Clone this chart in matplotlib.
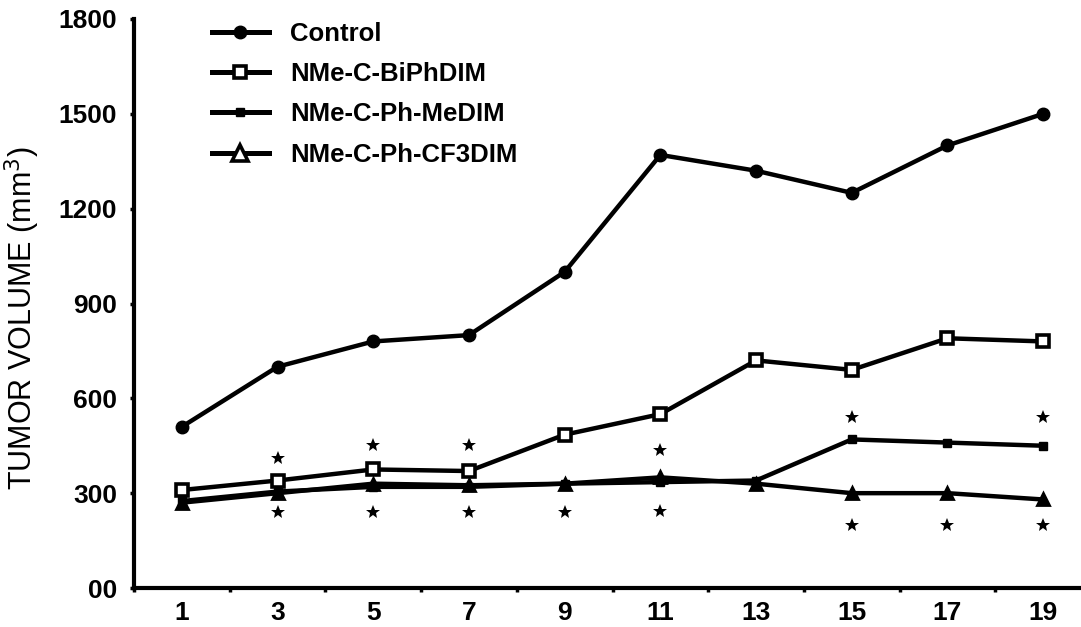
import matplotlib

matplotlib.use("Agg")
import matplotlib.pyplot as plt
from matplotlib.ticker import FixedLocator, NullFormatter

plt.rcParams["font.family"] = ["Liberation Sans", "DejaVu Sans"]

# days after treatment start (categorical x axis)
days = ["1", "3", "5", "7", "9", "11", "13", "15", "17", "19"]

control = [510, 700, 780, 800, 1000, 1370, 1320, 1250, 1400, 1500]
biphdim = [310, 340, 375, 370, 485, 550, 720, 690, 790, 780]
ph_medim = [275, 305, 320, 320, 330, 335, 340, 470, 460, 450]
ph_cf3dim = [270, 300, 330, 325, 330, 350, 330, 300, 300, 280]

# significance asterisks: (day index, height in mm3)
stars_upper_idx = [1, 2, 3, 5, 7, 9]
stars_upper_val = [410, 452, 452, 437, 540, 540]
stars_lower_idx = [1, 2, 3, 4, 5, 7, 8, 9]
stars_lower_val = [240, 240, 240, 240, 245, 200, 200, 200]

y_ticks = [0, 300, 600, 900, 1200, 1500, 1800]
y_labels = ["00", "300", "600", "900", "1200", "1500", "1800"]

W, H = 1081, 627
fig = plt.figure(figsize=(W / 100, H / 100), dpi=100)
ax = fig.add_axes([134 / W, 39 / H, 957 / W, 569 / H])

x = list(range(len(days)))
lw = 3.2

ax.plot(x, control, color="black", lw=lw, marker="o", ms=9,
        label="Control", zorder=3)
ax.plot(x, biphdim, color="black", lw=lw, marker="s", ms=8, mfc="white",
        mec="black", mew=2.6, label="NMe-C-BiPhDIM", zorder=4)
ax.plot(x, ph_medim, color="black", lw=lw, marker="s", ms=6,
        label="NMe-C-Ph-MeDIM", zorder=3)
ax.plot(x, ph_cf3dim, color="black", lw=lw, marker="^", ms=9,
        mec="black", mew=2.0, label="NMe-C-Ph-CF3DIM", zorder=3)

ax.plot(stars_upper_idx, stars_upper_val, ls="none", marker="*", ms=10,
        color="black", mew=0)
ax.plot(stars_lower_idx, stars_lower_val, ls="none", marker="*", ms=10,
        color="black", mew=0)

ax.set_xlim(-0.5, len(days) - 0.5)
ax.set_ylim(0, 1800)

for side in ["top", "right"]:
    ax.spines[side].set_visible(False)
for side in ["left", "bottom"]:
    ax.spines[side].set_linewidth(3)

ax.set_yticks(y_ticks)
ax.set_yticklabels(y_labels, fontsize=19, fontweight="bold")
ax.tick_params(axis="y", direction="out", length=3, width=2.5, pad=9)

ax.set_xticks(x)
ax.set_xticklabels(days, fontsize=19, fontweight="bold")
ax.tick_params(axis="x", which="major", length=0, pad=9)
ax.xaxis.set_minor_locator(FixedLocator([i - 0.5 for i in range(len(days) + 1)]))
ax.xaxis.set_minor_formatter(NullFormatter())
ax.tick_params(axis="x", which="minor", direction="out", length=3, width=2.5)

ax.set_ylabel("TUMOR VOLUME (mm$^3$)", fontsize=22)
ax.yaxis.set_label_coords(-92 / 957, 0.475)

leg = ax.legend(loc="upper left", bbox_to_anchor=(212 / W, 1 - 22 / H),
                bbox_transform=fig.transFigure, frameon=False,
                borderaxespad=0, borderpad=0, handlelength=2.2,
                handletextpad=0.85, labelspacing=0.63,
                prop={"size": 18.5, "weight": "bold"})
# legend shows the triangle open, as in the original figure
tri = leg.legend_handles[3]
tri.set_markerfacecolor("white")
tri.set_markersize(11)
tri.set_markeredgewidth(2.6)
for h in leg.legend_handles:
    h.set_linewidth(3.6)

fig.savefig("out.png", dpi=100)
